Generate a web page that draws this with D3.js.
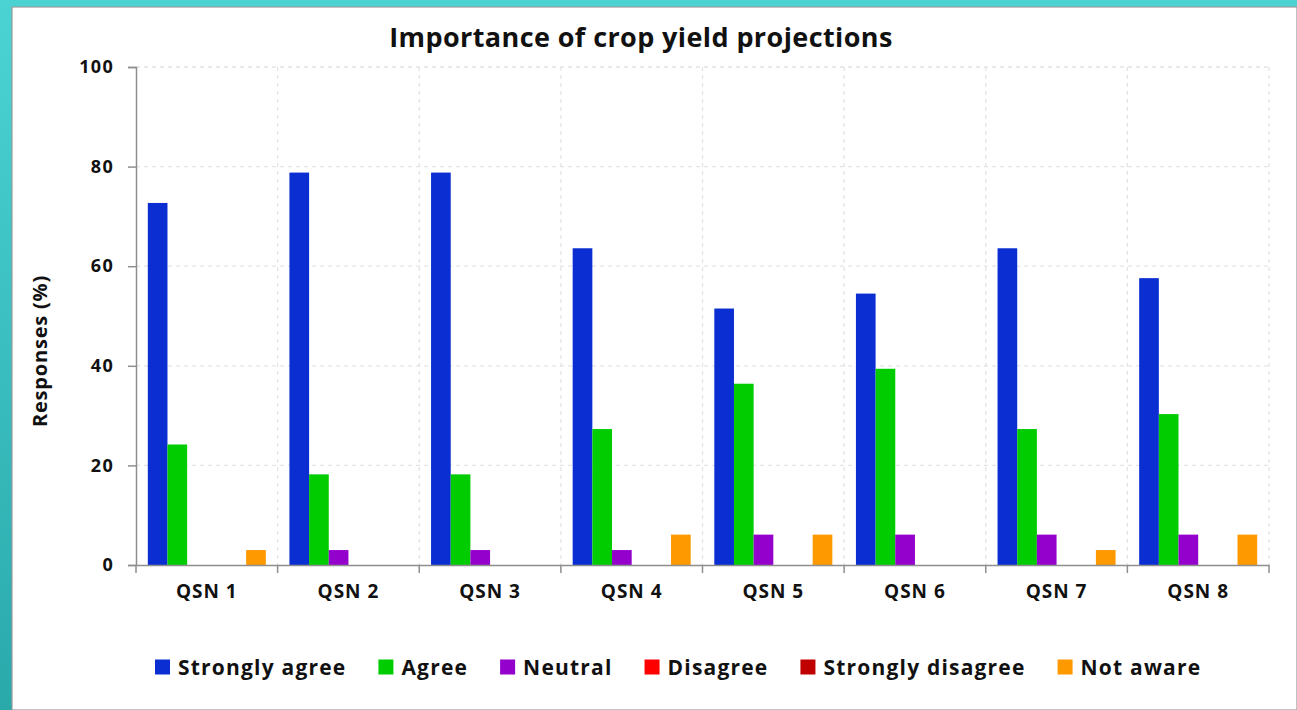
<!DOCTYPE html>
<html>
<head>
<meta charset="utf-8">
<script src="https://cdn.jsdelivr.net/npm/d3@7"></script>
<style>
  html, body { margin: 0; padding: 0; background: #fff; }
  svg { display: block; font-family: "Open Sans", sans-serif; }
</style>
</head>
<body>
<svg id="chart" width="1297" height="710"></svg>
<script>
  const categories = ["QSN 1", "QSN 2", "QSN 3", "QSN 4", "QSN 5", "QSN 6", "QSN 7", "QSN 8"];
  const seriesNames = ["Strongly agree", "Agree", "Neutral", "Disagree", "Strongly disagree", "Not aware"];
  const seriesColors = ["#0a2ed2", "#00cc00", "#9400cc", "#ff0000", "#c00000", "#ff9900"];

  const stronglyAgree = [72.7, 78.8, 78.8, 63.6, 51.5, 54.5, 63.6, 57.6];
  const agree = [24.2, 18.2, 18.2, 27.3, 36.4, 39.4, 27.3, 30.3];
  const neutral = [0, 3.0, 3.0, 3.0, 6.1, 6.1, 6.1, 6.1];
  const disagree = [0, 0, 0, 0, 0, 0, 0, 0];
  const stronglyDisagree = [0, 0, 0, 0, 0, 0, 0, 0];
  const notAware = [3.0, 0, 0, 6.1, 6.1, 0, 3.0, 6.1];

  const yTicks = [0, 20, 40, 60, 80, 100];

  const seriesValues = [stronglyAgree, agree, neutral, disagree, stronglyDisagree, notAware];

  (() => {
    const svg = d3.select("#chart");
    const W = 1297, H = 710;
    const FONT = "'Open Sans', sans-serif";
    const INK = "#111";
    const AXIS = "#8e8e8e";

    // teal frame
    const grad = svg.append("defs").append("linearGradient")
      .attr("id", "frame").attr("x1", 0).attr("y1", 0).attr("x2", 0).attr("y2", 1);
    grad.append("stop").attr("offset", "0%").attr("stop-color", "#4bd3d3");
    grad.append("stop").attr("offset", "100%").attr("stop-color", "#2aa9ab");
    svg.append("rect").attr("width", W).attr("height", H).attr("fill", "url(#frame)");
    svg.append("rect")
      .attr("x", 12).attr("y", 7).attr("width", W - 12).attr("height", H - 7)
      .attr("fill", "#fff").attr("stroke", "#9a9a9a").attr("stroke-width", 1.2);

    const plotLeft = 136, plotRight = 1269, plotTop = 67, plotBottom = 565;

    const x = d3.scaleBand().domain(categories).range([plotLeft, plotRight]);
    const xInner = d3.scaleBand().domain(seriesNames).range([0, x.bandwidth()]).paddingOuter(0.6);
    const y = d3.scaleLinear().domain([0, 100]).range([plotBottom, plotTop]);

    // gridlines
    const grid = svg.append("g").attr("stroke", "#e4e4e4").attr("stroke-width", 1.3)
      .attr("stroke-dasharray", "4,4");
    yTicks.filter(t => t > 0).forEach(t => {
      grid.append("line").attr("x1", plotLeft).attr("x2", plotRight).attr("y1", y(t)).attr("y2", y(t));
    });
    categories.forEach(c => {
      const xx = x(c) + x.bandwidth();
      grid.append("line").attr("x1", xx).attr("x2", xx).attr("y1", plotTop).attr("y2", plotBottom);
    });

    // bars
    const groups = svg.append("g").selectAll("g")
      .data(categories)
      .join("g")
      .attr("transform", d => `translate(${x(d)},0)`);

    groups.selectAll("rect")
      .data((c, i) => seriesNames.map((s, k) => ({ s, k, v: seriesValues[k][i] })).filter(d => d.v > 0))
      .join("rect")
      .attr("x", d => xInner(d.s))
      .attr("width", xInner.bandwidth())
      .attr("y", d => y(d.v))
      .attr("height", d => y(0) - y(d.v))
      .attr("fill", d => seriesColors[d.k]);

    // axes
    const yAxis = svg.append("g")
      .attr("transform", `translate(${plotLeft},0)`)
      .call(d3.axisLeft(y).tickValues(yTicks).tickSize(8).tickPadding(14));
    yAxis.select(".domain").attr("stroke", AXIS).attr("stroke-width", 1.5);
    yAxis.selectAll(".tick line").attr("stroke", AXIS).attr("stroke-width", 1.5);
    yAxis.selectAll(".tick text")
      .attr("font-family", FONT).attr("font-weight", "bold")
      .attr("font-size", 18).attr("letter-spacing", 1.3).attr("fill", INK);

    const xAxis = svg.append("g")
      .attr("transform", `translate(0,${plotBottom})`)
      .call(d3.axisBottom(x).tickSize(0).tickPadding(20));
    xAxis.select(".domain").attr("stroke", AXIS).attr("stroke-width", 1.5);
    xAxis.selectAll(".tick text")
      .attr("font-family", FONT).attr("font-weight", "bold")
      .attr("font-size", 19).attr("letter-spacing", 1).attr("fill", INK);
    // boundary ticks between categories
    const bounds = [plotLeft].concat(categories.map(c => x(c) + x.bandwidth()));
    svg.append("g").selectAll("line")
      .data(bounds)
      .join("line")
      .attr("x1", d => d).attr("x2", d => d)
      .attr("y1", plotBottom).attr("y2", plotBottom + 8)
      .attr("stroke", AXIS).attr("stroke-width", 1.5);

    // title
    svg.append("text")
      .attr("x", 641).attr("y", 47)
      .attr("text-anchor", "middle")
      .attr("font-family", FONT)
      .attr("font-weight", "bold").attr("font-size", 27).attr("letter-spacing", 0.4).attr("fill", INK)
      .text("Importance of crop yield projections");

    // y axis label
    svg.append("text")
      .attr("transform", `translate(47,351) rotate(-90)`)
      .attr("text-anchor", "middle")
      .attr("font-family", FONT)
      .attr("font-weight", "bold").attr("font-size", 20).attr("letter-spacing", 0.8).attr("fill", INK)
      .text("Responses (%)");

    // legend
    const legend = svg.append("g").attr("transform", "translate(0,667)");
    let lx = 155;
    seriesNames.forEach((s, k) => {
      legend.append("rect")
        .attr("x", lx).attr("y", -7.5).attr("width", 15).attr("height", 15)
        .attr("fill", seriesColors[k]);
      const t = legend.append("text")
        .attr("x", lx + 23).attr("y", 8)
        .attr("font-family", FONT)
        .attr("font-weight", "bold").attr("font-size", 21).attr("letter-spacing", 1.2).attr("fill", INK)
        .text(s);
      lx += 23 + t.node().getComputedTextLength() + 32;
    });
  })();
</script>
</body>
</html>
